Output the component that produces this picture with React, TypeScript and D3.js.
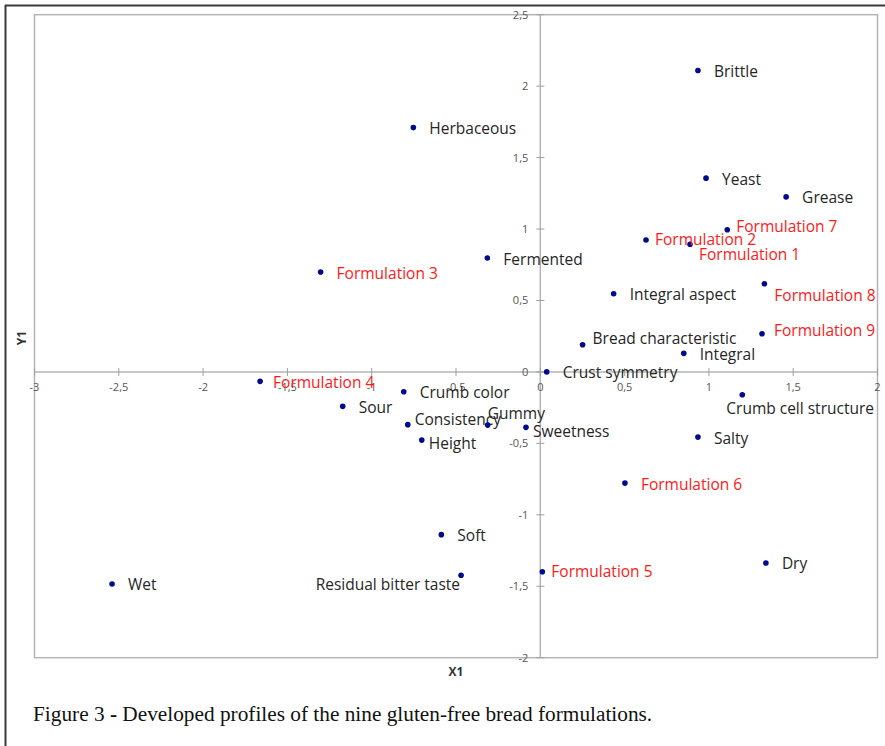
import React from "react";
import * as d3 from "d3";

// Sensory attributes projected on the first two factors
const attributeNames = [
  "Brittle", "Herbaceous", "Yeast", "Grease", "Fermented", "Integral aspect",
  "Bread characteristic", "Integral", "Crust symmetry", "Crumb color", "Sour",
  "Consistency", "Gummy", "Sweetness", "Height", "Crumb cell structure",
  "Salty", "Soft", "Residual bitter taste", "Dry", "Wet",
];
const attributeX = [
  0.935, -0.753, 0.983, 1.458, -0.314, 0.435, 0.251, 0.851, 0.038, -0.81, -1.172,
  -0.786, -0.312, -0.085, -0.703, 1.198, 0.935, -0.587, -0.47, 1.338, -2.54,
];
const attributeY = [
  2.11, 1.71, 1.356, 1.225, 0.797, 0.547, 0.19, 0.13, 0.0, -0.139, -0.241,
  -0.369, -0.372, -0.388, -0.477, -0.16, -0.456, -1.139, -1.423, -1.337, -1.484,
];

// Bread formulations
const formulationNames = [
  "Formulation 1", "Formulation 2", "Formulation 3", "Formulation 4", "Formulation 5",
  "Formulation 6", "Formulation 7", "Formulation 8", "Formulation 9",
];
const formulationX = [0.888, 0.627, -1.303, -1.662, 0.012, 0.502, 1.109, 1.329, 1.315];
const formulationY = [0.893, 0.923, 0.699, -0.066, -1.398, -0.778, 0.995, 0.617, 0.267];

const xTicks = [-3, -2.5, -2, -1.5, -1, -0.5, 0, 0.5, 1, 1.5, 2];
const yTicks = [-2, -1.5, -1, -0.5, 0, 0.5, 1, 1.5, 2, 2.5];

const xAxisTitle = "X1";
const yAxisTitle = "Y1";
const captionLead = "Figure 3 ";
const captionDash = "-";
const captionRest = " Developed profiles of the nine gluten-free bread formulations.";

// Label placement relative to each marker: [dx, dy, anchor]
const labelPlacement: Record<string, [number, number, string]> = {
  "Formulation 7": [9, -3, "start"],
  "Formulation 2": [9, -1, "start"],
  "Formulation 1": [9, 10, "start"],
  "Formulation 8": [10, 12, "start"],
  "Formulation 9": [12, -3, "start"],
  "Formulation 4": [13, 1, "start"],
  "Formulation 5": [9, 0, "start"],
  "Bread characteristic": [10, -6, "start"],
  Consistency: [7, -5, "start"],
  Gummy: [0, -12, "start"],
  Sweetness: [7, 4, "start"],
  Height: [7, 3, "start"],
  "Crumb cell structure": [-16, 14, "start"],
  "Residual bitter taste": [-1, 9, "end"],
};

const W = 885;
const H = 746;
const plot = { left: 34.5, right: 877.5, top: 14.7, bottom: 657.7 };

const fmt = (v: number) => String(v).replace(".", ",");

export default function App() {
  const x = d3.scaleLinear().domain([-3, 2]).range([plot.left, plot.right]);
  const y = d3.scaleLinear().domain([-2, 2.5]).range([plot.bottom, plot.top]);
  const x0 = x(0);
  const y0 = y(0);

  const points = [
    ...attributeNames.map((n, i) => ({ name: n, x: attributeX[i], y: attributeY[i], red: false })),
    ...formulationNames.map((n, i) => ({ name: n, x: formulationX[i], y: formulationY[i], red: true })),
  ];

  const sans = "'Open Sans', sans-serif";

  return (
    <svg
      width={W}
      height={H}
      style={{ position: "absolute", left: 0, top: 0, background: "#fff" }}
      fontFamily={sans}
    >
      <rect width={W} height={H} fill="#fff" />
      {/* figure frame */}
      <line x1={5} x2={W} y1={5.5} y2={5.5} stroke="#3a3a3a" strokeWidth={2} />
      <line x1={5.5} x2={5.5} y1={5} y2={H} stroke="#3a3a3a" strokeWidth={2} />

      {/* plot area */}
      <rect
        x={plot.left}
        y={plot.top}
        width={plot.right - plot.left}
        height={plot.bottom - plot.top}
        fill="#fff"
        stroke="#b5b5b5"
        strokeWidth={1.5}
      />

      {/* axes through the origin */}
      <line x1={plot.left} x2={plot.right} y1={y0} y2={y0} stroke="#b5b5b5" strokeWidth={1.5} />
      <line x1={x0} x2={x0} y1={plot.top} y2={plot.bottom} stroke="#b5b5b5" strokeWidth={1.5} />

      {xTicks.map((t) => (
        <g key={"xt" + t}>
          <line x1={x(t)} x2={x(t)} y1={y0 - 4} y2={y0 + 4} stroke="#a0a0a0" strokeWidth={1} />
          <text x={x(t)} y={y0 + 19} textAnchor="middle" fontSize={11} fill="#555">
            {fmt(t)}
          </text>
        </g>
      ))}
      {yTicks.map((t) => (
        <g key={"yt" + t}>
          <line x1={x0 - 4} x2={x0 + 4} y1={y(t)} y2={y(t)} stroke="#a0a0a0" strokeWidth={1} />
          <text x={x0 - 12} y={y(t) + 4} textAnchor="end" fontSize={11} fill="#555">
            {fmt(t)}
          </text>
        </g>
      ))}

      {/* axis titles */}
      <text x={456} y={676} textAnchor="middle" fontSize={12} fontWeight="bold" fill="#333">
        {xAxisTitle}
      </text>
      <text
        transform="translate(26, 338) rotate(-90)"
        textAnchor="middle"
        fontSize={12}
        fontWeight="bold"
        fill="#333"
      >
        {yAxisTitle}
      </text>

      {/* markers and labels */}
      {points.map((p) => {
        const [dx, dy, anchor] = labelPlacement[p.name] ?? [16, 1, "start"];
        return (
          <g key={p.name}>
            <circle cx={x(p.x)} cy={y(p.y)} r={2.8} fill="#000a8c" />
            <text
              x={x(p.x) + dx}
              y={y(p.y) + dy + 5.5}
              textAnchor={anchor}
              fontSize={15.5}
              fill={p.red ? "#ff1a1a" : "#262626"}
            >
              {p.name}
            </text>
          </g>
        );
      })}

      {/* caption */}
      <text
        x={33}
        y={721}
        fontFamily="'Liberation Serif', 'Times New Roman', serif"
        fontSize={21.3}
        fill="#111"
      >
        {captionLead}
        <tspan fontWeight="bold">{captionDash}</tspan>
        {captionRest}
      </text>
    </svg>
  );
}
